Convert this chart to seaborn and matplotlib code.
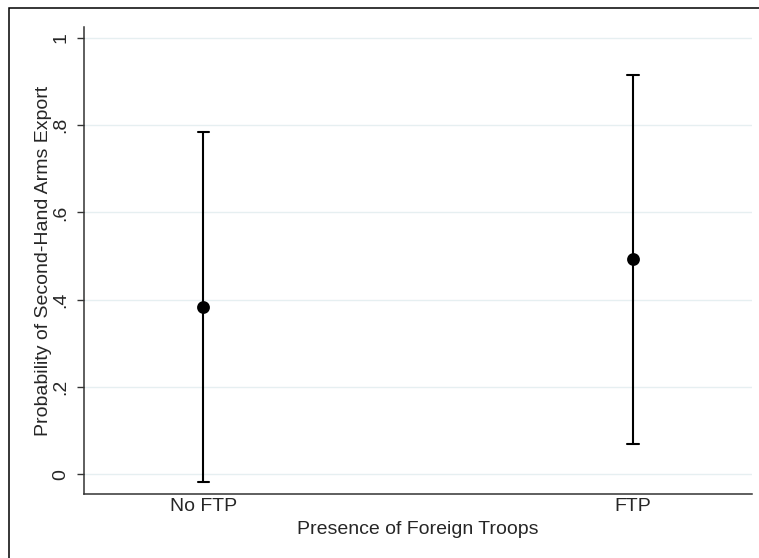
import numpy as np
import pandas as pd
import matplotlib
matplotlib.use("Agg")
import matplotlib.pyplot as plt
import seaborn as sns

# values
categories = ["No FTP", "FTP"]
estimates = [0.384, 0.4925]
lower = [-0.018, 0.0687]
upper = [0.785, 0.916]
y_ticks = [0, 0.2, 0.4, 0.6, 0.8, 1]
y_tick_labels = ["0", ".2", ".4", ".6", ".8", "1"]

# long table: one row for lower, estimate and upper of each category
rows = []
for cat, lo, est, hi in zip(categories, lower, estimates, upper):
    for v in (lo, est, hi):
        rows.append({"group": cat, "prob": v})
df = pd.DataFrame(rows)

sns.set_style("white")
plt.rcParams["font.family"] = ["Liberation Sans", "DejaVu Sans"]

fig = plt.figure(figsize=(7.59, 5.58), dpi=100)
ax = fig.add_axes([0.1107, 0.1142, 0.8801, 0.8374])

# grid lines first so they sit under the marks
for t in y_ticks:
    ax.axhline(t, color="#e6eff1", lw=1.0, zorder=0)

sns.pointplot(
    data=df, x="group", y="prob", order=categories,
    estimator="median", errorbar=lambda x: (x.min(), x.max()),
    linestyle="none", color="black", markersize=7.2,
    capsize=0.026, err_kws={"linewidth": 1.5}, ax=ax,
)

ax.set_xlim(-0.277, 1.277)
ax.set_ylim(-0.046, 1.025)
ax.set_yticks(y_ticks)
ax.set_yticklabels(y_tick_labels, rotation=90, va="center", fontsize=14)
ax.tick_params(axis="y", length=5, width=1, color="#333333", pad=5.5, left=True)
ax.tick_params(axis="x", length=0, pad=3, labelsize=14)

ax.set_xlabel("Presence of Foreign Troops", fontsize=14, labelpad=4)
ax.set_ylabel("Probability of Second-Hand Arms Export", fontsize=14, labelpad=0)

sns.despine(ax=ax)
for side in ("left", "bottom"):
    ax.spines[side].set_color("#333333")
    ax.spines[side].set_linewidth(1.1)

# outer frame, cut off at right and bottom like the reference
fig.patches.append(plt.Rectangle((0.0119, -0.05), 1.1, 0.9857 + 0.05,
                                 transform=fig.transFigure, fill=False,
                                 edgecolor="black", lw=1.1))

fig.savefig("out.png", dpi=100)
